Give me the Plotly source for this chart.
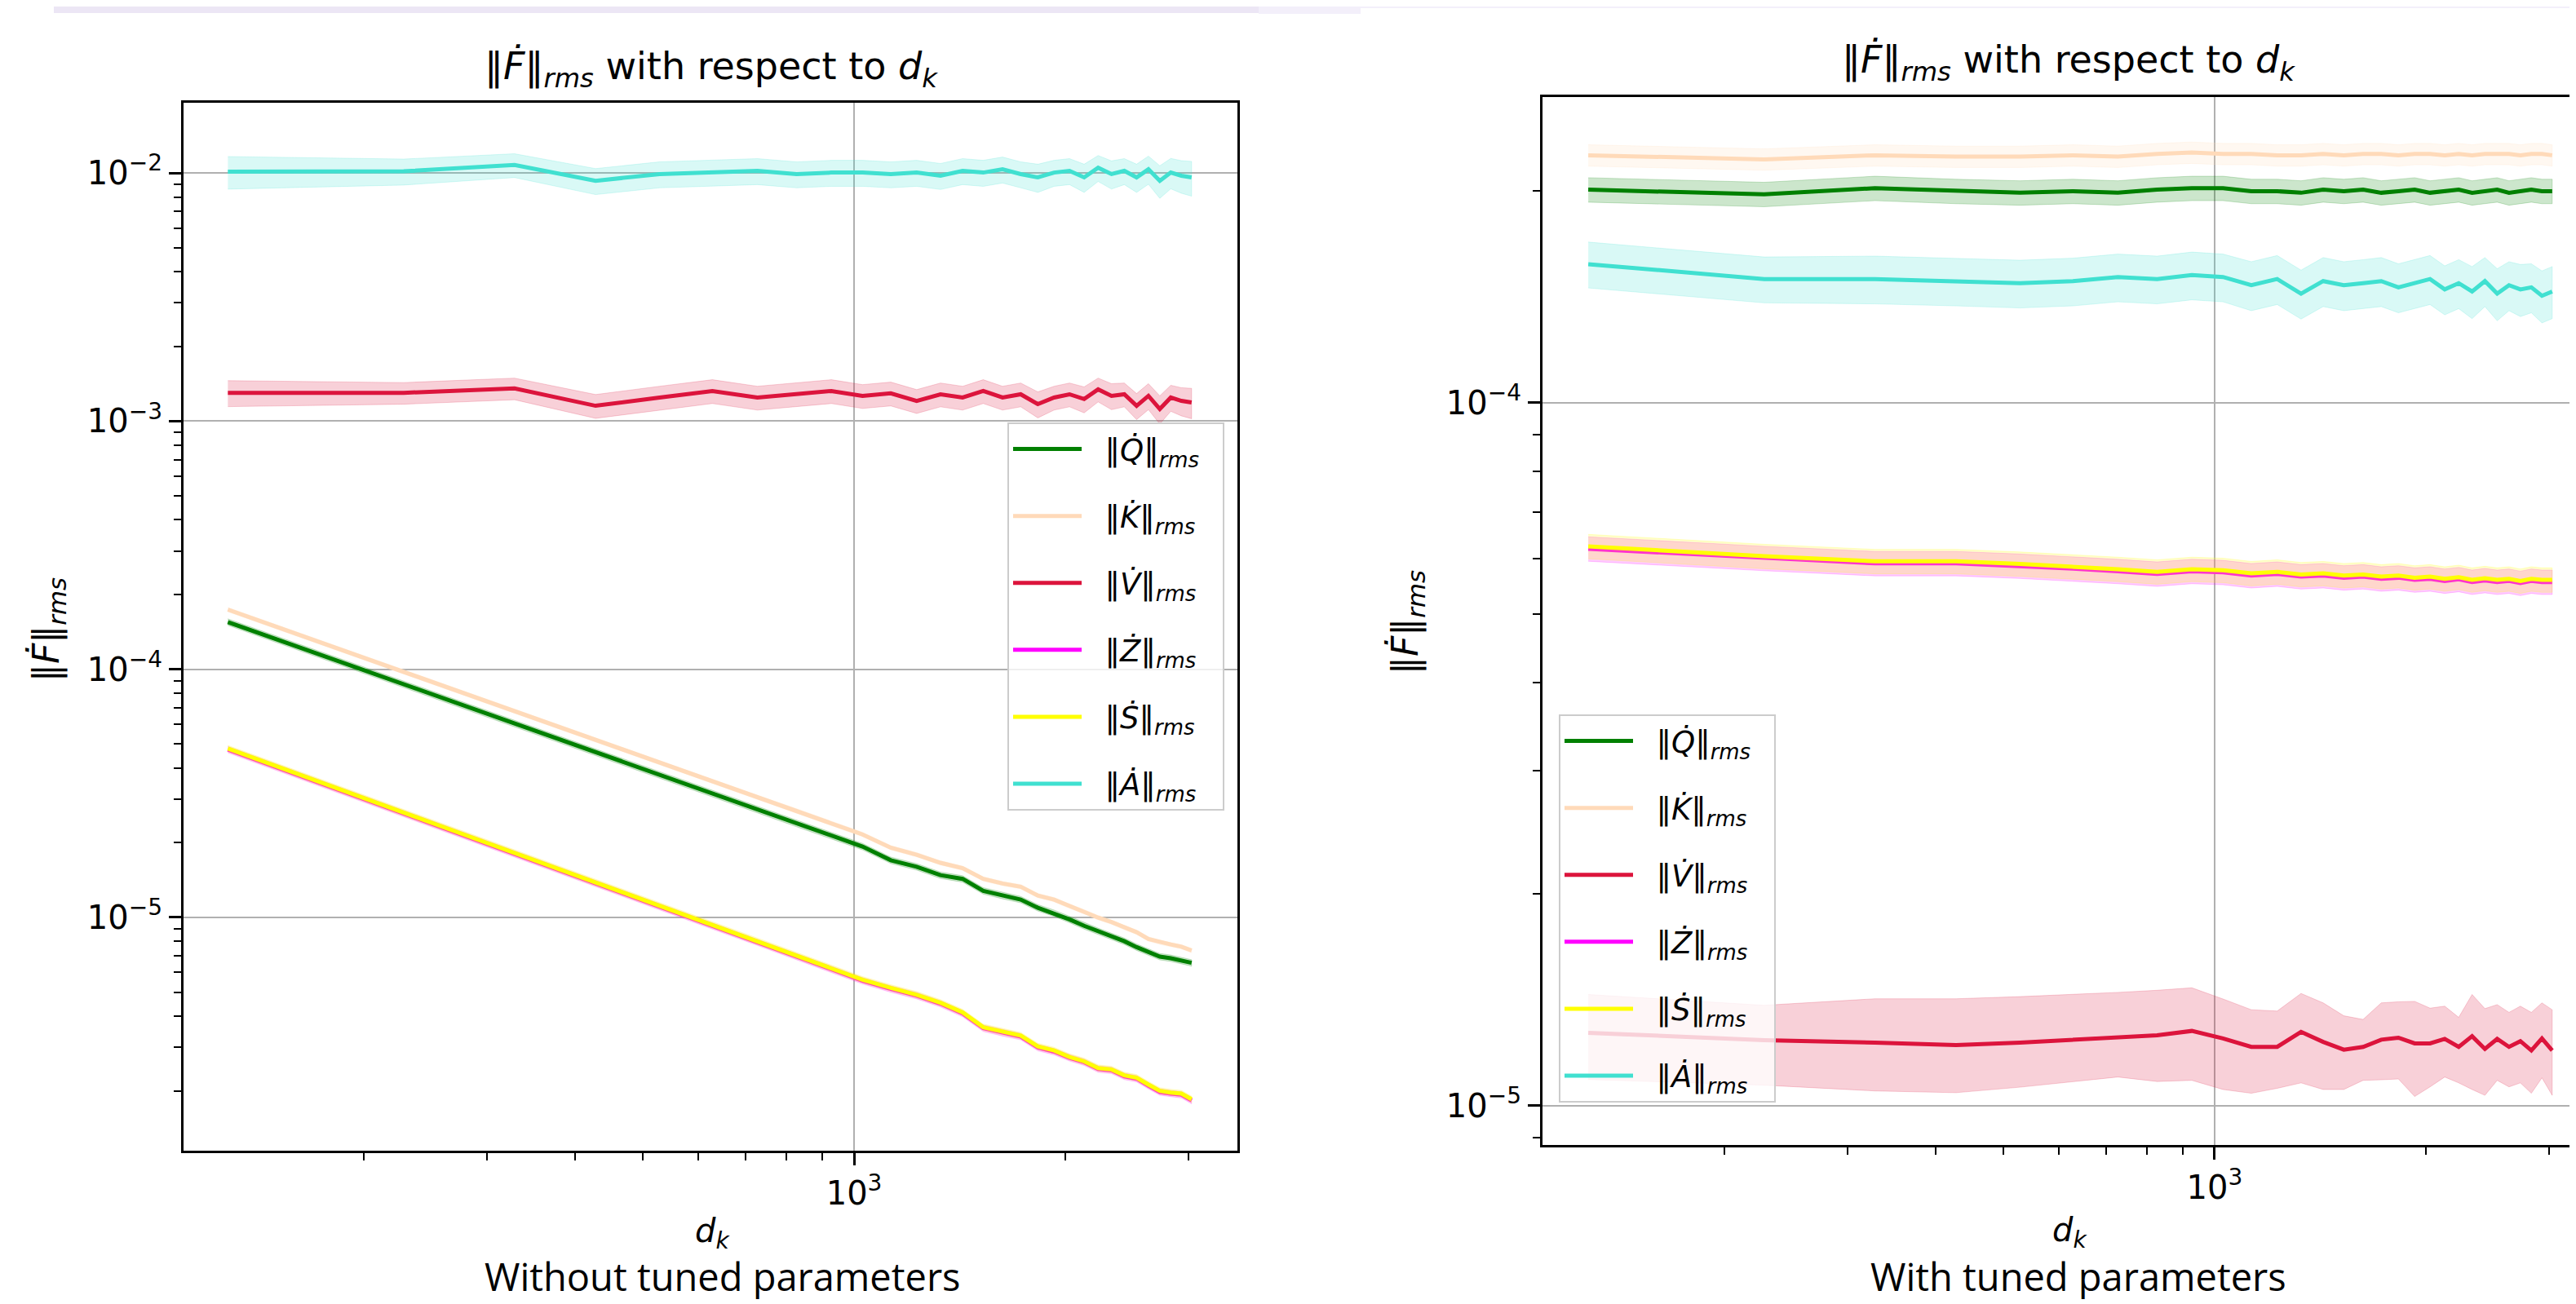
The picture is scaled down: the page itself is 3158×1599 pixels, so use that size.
import plotly.graph_objects as go

# ---------------- data ----------------
d_k = [128, 228, 328, 428, 528, 628, 728, 828, 928, 1028, 1128, 1228, 1328, 1428, 1528,
       1628, 1728, 1828, 1928, 2028, 2128, 2228, 2328, 2428, 2528, 2628, 2728, 2828, 2928, 3028]

# Left panel: without tuned parameters
L_Q = [1.55e-4, 8.70e-5, 6.04e-5, 4.62e-5, 3.75e-5, 3.15e-5, 2.72e-5, 2.39e-5, 2.13e-5, 1.93e-5,
       1.70e-5, 1.60e-5, 1.48e-5, 1.43e-5, 1.28e-5, 1.225e-5, 1.18e-5, 1.094e-5, 1.04e-5, 9.82e-6,
       9.25e-6, 8.79e-6, 8.39e-6, 8.02e-6, 7.59e-6, 7.26e-6, 6.95e-6, 6.85e-6, 6.70e-6, 6.56e-6]
L_K = [1.74e-4, 9.75e-5, 6.78e-5, 5.19e-5, 4.21e-5, 3.54e-5, 3.05e-5, 2.69e-5, 2.39e-5, 2.16e-5,
       1.91e-5, 1.79e-5, 1.66e-5, 1.58e-5, 1.43e-5, 1.37e-5, 1.33e-5, 1.225e-5, 1.18e-5, 1.11e-5,
       1.055e-5, 9.98e-6, 9.58e-6, 9.10e-6, 8.72e-6, 8.19e-6, 7.94e-6, 7.78e-6, 7.62e-6, 7.36e-6]
L_V = [1.30e-3, 1.30e-3, 1.355e-3, 1.153e-3, 1.245e-3, 1.323e-3, 1.245e-3, 1.283e-3, 1.323e-3, 1.264e-3,
       1.294e-3, 1.207e-3, 1.283e-3, 1.245e-3, 1.323e-3, 1.245e-3, 1.283e-3, 1.171e-3, 1.245e-3, 1.283e-3,
       1.227e-3, 1.343e-3, 1.264e-3, 1.283e-3, 1.153e-3, 1.264e-3, 1.119e-3, 1.245e-3, 1.207e-3, 1.189e-3]
L_Z = [4.75e-5, 2.62e-5, 1.80e-5, 1.37e-5, 1.105e-5, 9.25e-6, 7.95e-6, 6.96e-6, 6.19e-6, 5.56e-6,
       5.15e-6, 4.84e-6, 4.49e-6, 4.10e-6, 3.58e-6, 3.43e-6, 3.31e-6, 2.99e-6, 2.88e-6, 2.72e-6,
       2.61e-6, 2.45e-6, 2.42e-6, 2.29e-6, 2.24e-6, 2.10e-6, 1.98e-6, 1.95e-6, 1.93e-6, 1.83e-6]
L_S = [4.79e-5, 2.64e-5, 1.82e-5, 1.38e-5, 1.115e-5, 9.33e-6, 8.02e-6, 7.02e-6, 6.24e-6, 5.61e-6,
       5.20e-6, 4.88e-6, 4.53e-6, 4.14e-6, 3.61e-6, 3.46e-6, 3.34e-6, 3.02e-6, 2.91e-6, 2.74e-6,
       2.63e-6, 2.47e-6, 2.44e-6, 2.31e-6, 2.26e-6, 2.12e-6, 2.00e-6, 1.97e-6, 1.95e-6, 1.85e-6]
L_A = [1.013e-2, 1.016e-2, 1.077e-2, 9.30e-3, 9.90e-3, 1.004e-2, 1.02e-2, 9.90e-3, 1.004e-2, 1.004e-2,
       9.90e-3, 1.004e-2, 9.75e-3, 1.02e-2, 1.004e-2, 1.035e-2, 9.90e-3, 9.60e-3, 1.004e-2, 1.02e-2,
       9.60e-3, 1.05e-2, 9.90e-3, 1.02e-2, 9.60e-3, 1.035e-2, 9.30e-3, 1.004e-2, 9.75e-3, 9.60e-3]
# relative half-width of the shaded band
L_Q_band = [0.03] * 30
L_K_band = [0.02] * 30
L_V_band = [0.12, 0.10, 0.10, 0.11, 0.11, 0.11, 0.11, 0.11, 0.11, 0.11, 0.11, 0.11, 0.11, 0.11, 0.11,
            0.11, 0.11, 0.12, 0.11, 0.11, 0.12, 0.11, 0.12, 0.11, 0.12, 0.12, 0.13, 0.12, 0.13, 0.14]
L_Z_band = [0.03] * 30
L_S_band = [0.03] * 30
L_A_band = [0.15, 0.12, 0.11, 0.12, 0.12, 0.12, 0.12, 0.12, 0.12, 0.12, 0.12, 0.12, 0.12, 0.12, 0.12,
            0.12, 0.12, 0.13, 0.12, 0.12, 0.13, 0.12, 0.13, 0.12, 0.13, 0.13, 0.15, 0.14, 0.15, 0.16]

# Right panel: with tuned parameters
R_Q = [2.01e-4, 1.98e-4, 2.02e-4, 2.00e-4, 1.99e-4, 2.00e-4, 1.99e-4, 2.01e-4, 2.02e-4, 2.02e-4,
       2.00e-4, 2.00e-4, 1.99e-4, 2.01e-4, 2.00e-4, 2.01e-4, 1.99e-4, 2.00e-4, 2.01e-4, 1.99e-4,
       2.00e-4, 2.01e-4, 1.99e-4, 2.00e-4, 2.01e-4, 1.99e-4, 2.00e-4, 2.01e-4, 2.00e-4, 2.00e-4]
R_K = [2.25e-4, 2.22e-4, 2.25e-4, 2.24e-4, 2.24e-4, 2.25e-4, 2.24e-4, 2.26e-4, 2.27e-4, 2.26e-4,
       2.26e-4, 2.25e-4, 2.25e-4, 2.26e-4, 2.25e-4, 2.26e-4, 2.26e-4, 2.25e-4, 2.26e-4, 2.26e-4,
       2.25e-4, 2.26e-4, 2.25e-4, 2.26e-4, 2.26e-4, 2.26e-4, 2.25e-4, 2.26e-4, 2.26e-4, 2.25e-4]
R_V = [1.27e-5, 1.24e-5, 1.23e-5, 1.22e-5, 1.23e-5, 1.24e-5, 1.25e-5, 1.26e-5, 1.278e-5, 1.247e-5,
       1.213e-5, 1.213e-5, 1.274e-5, 1.233e-5, 1.202e-5, 1.213e-5, 1.242e-5, 1.250e-5, 1.227e-5, 1.227e-5,
       1.245e-5, 1.213e-5, 1.256e-5, 1.205e-5, 1.245e-5, 1.213e-5, 1.236e-5, 1.199e-5, 1.247e-5, 1.199e-5]
R_V_hi = [1.44e-5, 1.39e-5, 1.42e-5, 1.42e-5, 1.43e-5, 1.44e-5, 1.45e-5, 1.46e-5, 1.472e-5, 1.419e-5,
          1.37e-5, 1.364e-5, 1.445e-5, 1.401e-5, 1.343e-5, 1.327e-5, 1.401e-5, 1.406e-5, 1.408e-5, 1.377e-5,
          1.386e-5, 1.336e-5, 1.44e-5, 1.375e-5, 1.393e-5, 1.358e-5, 1.386e-5, 1.358e-5, 1.401e-5, 1.37e-5]
R_V_lo = [1.09e-5, 1.07e-5, 1.05e-5, 1.044e-5, 1.063e-5, 1.083e-5, 1.099e-5, 1.083e-5, 1.087e-5, 1.055e-5,
          1.042e-5, 1.059e-5, 1.078e-5, 1.055e-5, 1.055e-5, 1.087e-5, 1.089e-5, 1.092e-5, 1.031e-5, 1.064e-5,
          1.099e-5, 1.078e-5, 1.055e-5, 1.035e-5, 1.087e-5, 1.064e-5, 1.078e-5, 1.042e-5, 1.096e-5, 1.035e-5]
R_Z = [6.20e-5, 6.01e-5, 5.91e-5, 5.91e-5, 5.86e-5, 5.81e-5, 5.76e-5, 5.71e-5, 5.76e-5, 5.74e-5,
       5.68e-5, 5.71e-5, 5.66e-5, 5.68e-5, 5.64e-5, 5.66e-5, 5.62e-5, 5.64e-5, 5.60e-5, 5.62e-5,
       5.58e-5, 5.61e-5, 5.56e-5, 5.59e-5, 5.56e-5, 5.58e-5, 5.54e-5, 5.58e-5, 5.56e-5, 5.56e-5]
R_S = [6.25e-5, 6.05e-5, 5.95e-5, 5.95e-5, 5.90e-5, 5.85e-5, 5.80e-5, 5.75e-5, 5.80e-5, 5.78e-5,
       5.72e-5, 5.75e-5, 5.70e-5, 5.72e-5, 5.68e-5, 5.70e-5, 5.66e-5, 5.68e-5, 5.64e-5, 5.66e-5,
       5.62e-5, 5.65e-5, 5.60e-5, 5.63e-5, 5.60e-5, 5.62e-5, 5.58e-5, 5.62e-5, 5.60e-5, 5.60e-5]
R_A = [1.575e-4, 1.50e-4, 1.50e-4, 1.49e-4, 1.48e-4, 1.49e-4, 1.51e-4, 1.50e-4, 1.52e-4, 1.51e-4,
       1.47e-4, 1.50e-4, 1.43e-4, 1.49e-4, 1.47e-4, 1.48e-4, 1.49e-4, 1.46e-4, 1.48e-4, 1.50e-4,
       1.45e-4, 1.48e-4, 1.44e-4, 1.49e-4, 1.43e-4, 1.47e-4, 1.45e-4, 1.46e-4, 1.42e-4, 1.44e-4]
R_Q_band = [0.04] * 30
R_K_band = [0.035] * 30
R_Z_band = [0.04] * 30
R_S_band = [0.04] * 30
R_A_band = [0.075, 0.075, 0.078, 0.078, 0.078, 0.078, 0.078, 0.078, 0.078, 0.078, 0.08, 0.08, 0.08, 0.08, 0.08,
            0.08, 0.08, 0.08, 0.08, 0.08, 0.08, 0.08, 0.085, 0.08, 0.085, 0.08, 0.085, 0.08, 0.085, 0.085]

series_names = ["‖<i>Q̇</i>‖<sub><i>rms</i></sub>", "‖<i>K̇</i>‖<sub><i>rms</i></sub>",
                "‖<i>V̇</i>‖<sub><i>rms</i></sub>", "‖<i>Ż</i>‖<sub><i>rms</i></sub>",
                "‖<i>Ṡ</i>‖<sub><i>rms</i></sub>", "‖<i>Ȧ</i>‖<sub><i>rms</i></sub>"]
series_colors = [(0, 128, 0), (255, 218, 185), (220, 20, 60), (255, 0, 255), (255, 255, 0), (64, 224, 208)]

x_major = [1000]
x_major_text = ["10<sup>3</sup>"]
x_minor = [200, 300, 400, 500, 600, 700, 800, 900, 2000, 3000]
yL_major = [1e-5, 1e-4, 1e-3, 1e-2]
yL_major_text = ["10<sup>−5</sup>", "10<sup>−4</sup>", "10<sup>−3</sup>", "10<sup>−2</sup>"]
yR_major = [1e-5, 1e-4]
yR_major_text = ["10<sup>−5</sup>", "10<sup>−4</sup>"]

# ---------------- figure ----------------
W, H = 3158, 1599
FONT = "DejaVu Sans"
NB = "\u00a0"
fig = go.Figure()


def rgba(c, a):
    return "rgba(%d,%d,%d,%g)" % (c[0], c[1], c[2], a)


def add_series(xa, ya, y, lo, hi, name, color, legend, gid):
    fig.add_trace(go.Scatter(x=d_k, y=y, mode="lines", name=NB * 2 + name + NB * 2, xaxis=xa, yaxis=ya,
                             line=dict(color=rgba(color, 1), width=5), legend=legend,
                             legendgroup=gid, hoverinfo="skip"))
    fig.add_trace(go.Scatter(x=d_k + d_k[::-1], y=hi + lo[::-1], mode="lines", fill="toself",
                             fillcolor=rgba(color, 0.2), line=dict(width=1, color=rgba(color, 0.2)),
                             xaxis=xa, yaxis=ya, showlegend=False, legendgroup=gid, hoverinfo="skip"))


def rel_band(y, b):
    return [v * (1 - r) for v, r in zip(y, b)], [v * (1 + r) for v, r in zip(y, b)]


left = [(L_Q, L_Q_band), (L_K, L_K_band), (L_V, L_V_band), (L_Z, L_Z_band), (L_S, L_S_band), (L_A, L_A_band)]
for i, ((y, b), nm, c) in enumerate(zip(left, series_names, series_colors)):
    lo, hi = rel_band(y, b)
    add_series("x", "y", y, lo, hi, nm, c, "legend", "L%d" % i)

right_bands = [rel_band(R_Q, R_Q_band), rel_band(R_K, R_K_band), (R_V_lo, R_V_hi),
               rel_band(R_Z, R_Z_band), rel_band(R_S, R_S_band), rel_band(R_A, R_A_band)]
for i, (y, (lo, hi), nm, c) in enumerate(zip([R_Q, R_K, R_V, R_Z, R_S, R_A], right_bands,
                                             series_names, series_colors)):
    add_series("x2", "y2", y, lo, hi, nm, c, "legend2", "R%d" % i)

tickfont = dict(family=FONT, size=40, color="black")
common = dict(type="log", showline=True, mirror=True, linecolor="black", linewidth=3,
              ticks="outside", ticklen=15, tickwidth=2.5, tickcolor="black",
              showgrid=True, gridcolor="#b0b0b0", gridwidth=2, zeroline=False,
              tickfont=tickfont, tickmode="array")
minor = dict(ticks="outside", ticklen=9, tickwidth=2, tickcolor="black", showgrid=False)

yL_minor = [m * 10 ** e for e in (-6, -5, -4, -3) for m in range(2, 10)]
yR_minor = [m * 10 ** e for e in (-6, -5, -4) for m in range(2, 10)]

legend_style = dict(xanchor="left", yanchor="top", bgcolor="rgba(255,255,255,0.8)",
                    bordercolor="#cccccc", borderwidth=2,
                    font=dict(family=FONT, size=37, color="black"), itemwidth=84, tracegroupgap=31)

right_y = dict(common)
right_y["mirror"] = False  # the right-hand frame of this panel lies outside the picture

fig.update_layout(
    width=W, height=H, margin=dict(l=0, r=0, t=0, b=0),
    paper_bgcolor="white", plot_bgcolor="white", showlegend=True,
    xaxis=dict(domain=[217 / W, 1509 / W], range=[2.044, 3.5465], anchor="y",
               tickvals=x_major, ticktext=x_major_text,
               minor=dict(tickvals=x_minor, **minor), **common),
    yaxis=dict(domain=[1 - 1403 / H, 1 - 118 / H], range=[-5.940, -1.717], anchor="x",
               tickvals=yL_major, ticktext=yL_major_text,
               minor=dict(tickvals=yL_minor, **minor), **common),
    xaxis2=dict(domain=[1883 / W, 1.0], range=[2.042, 3.5244], anchor="y2",
                tickvals=x_major, ticktext=x_major_text,
                minor=dict(tickvals=x_minor, **minor), **common),
    yaxis2=dict(domain=[1 - 1396 / H, 1 - 111 / H], range=[-5.0557, -3.565], anchor="x2",
                tickvals=yR_major, ticktext=yR_major_text,
                minor=dict(tickvals=yR_minor, **minor), **right_y),
    legend=dict(x=1227 / W, y=1 - 510 / H, **legend_style),
    legend2=dict(x=1903 / W, y=1 - 868 / H, **legend_style),
)

title_txt = "‖<i>Ḟ</i>‖<sub><i>rms</i></sub> with respect to <i>d</i><sub><i>k</i></sub>"
ann = [
    dict(text=title_txt, x=864 / W, y=1 - 76 / H, font=dict(family=FONT, size=46)),
    dict(text=title_txt, x=2528 / W, y=1 - 68 / H, font=dict(family=FONT, size=46)),
    dict(text="<i>d</i><sub><i>k</i></sub>", x=865 / W, y=1 - 1504 / H, height=42,
         font=dict(family=FONT, size=40)),
    dict(text="<i>d</i><sub><i>k</i></sub>", x=2529 / W, y=1 - 1503 / H, height=42,
         font=dict(family=FONT, size=40)),
    dict(text="‖<i>Ḟ</i>‖<sub><i>rms</i></sub>", x=51 / W, y=1 - 764 / H, textangle=-90,
         font=dict(family=FONT, size=44)),
    dict(text="‖<i>Ḟ</i>‖<sub><i>rms</i></sub>", x=1717 / W, y=1 - 755 / H, textangle=-90,
         font=dict(family=FONT, size=44)),
    dict(text="Without tuned parameters", x=878 / W, y=1 - 1557 / H, height=56,
         font=dict(family="Open Sans", size=47)),
    dict(text="With tuned parameters", x=2540 / W, y=1 - 1557 / H, height=56,
         font=dict(family="Open Sans", size=47)),
]
for a in ann:
    a.update(xref="paper", yref="paper", showarrow=False, xanchor="center", yanchor="middle", borderpad=0)
    a["font"]["color"] = "black"
fig.update_layout(annotations=ann)

fig.update_layout(shapes=[
    dict(type="rect", xref="paper", yref="paper", x0=58 / W, x1=1535 / W, y0=1 - 8 / H, y1=1,
         fillcolor="#ECE6F5", line=dict(width=0), layer="above"),
    dict(type="rect", xref="paper", yref="paper", x0=1535 / W, x1=1660 / W, y0=1 - 9 / H, y1=1,
         fillcolor="#F3EFFA", line=dict(width=0), layer="above"),
    dict(type="rect", xref="paper", yref="paper", x0=1660 / W, x1=1, y0=1 - 2 / H, y1=1,
         fillcolor="#F3EFFA", line=dict(width=0), layer="above"),
])

fig.write_html("out.html")
